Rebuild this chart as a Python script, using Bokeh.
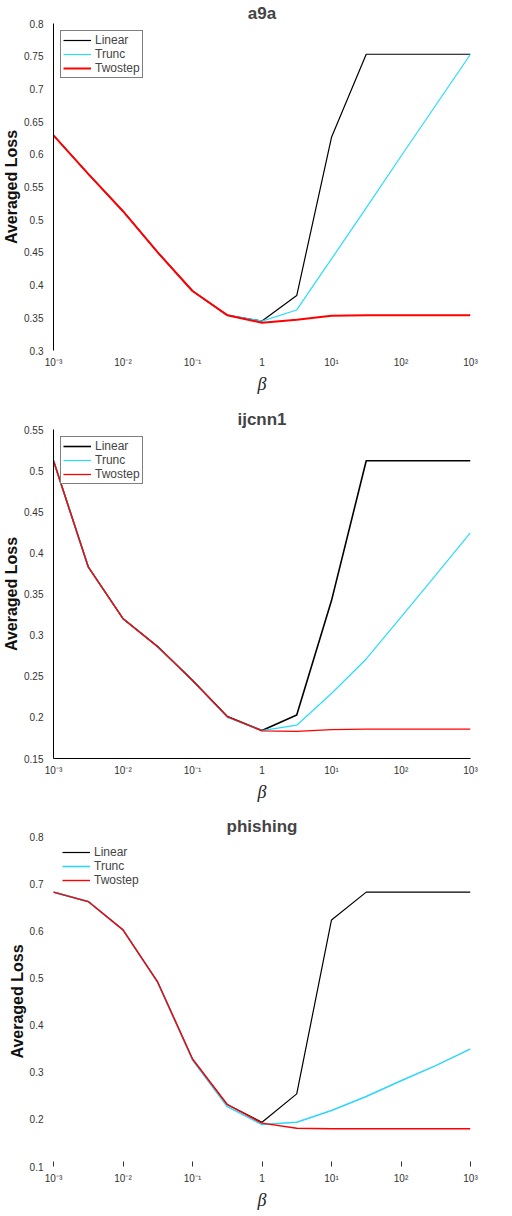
from bokeh.plotting import figure
from bokeh.layouts import column
from bokeh.models import (FixedTicker, CustomJSTickFormatter, Legend, LegendItem,
                          Range1d)
from bokeh.embed import file_html
from bokeh.resources import INLINE

# beta grid (half-decade steps)
beta = [0.001, 0.00316, 0.01, 0.0316, 0.1, 0.316, 1, 3.16, 10, 31.6, 100, 316, 1000]
x_ticks = [0.001, 0.01, 0.1, 1, 10, 100, 1000]

# a9a
a9a_linear = [0.629, 0.570, 0.513, 0.450, 0.391, 0.354, 0.345, 0.384, 0.626, 0.753, 0.753, 0.753, 0.753]
a9a_trunc = [0.629, 0.570, 0.513, 0.450, 0.391, 0.354, 0.345, 0.362, 0.440, 0.518, 0.597, 0.675, 0.753]
a9a_twostep = [0.629, 0.570, 0.513, 0.450, 0.391, 0.354, 0.3425, 0.347, 0.353, 0.354, 0.354, 0.354, 0.354]
a9a_yticks = [0.3, 0.35, 0.4, 0.45, 0.5, 0.55, 0.6, 0.65, 0.7, 0.75, 0.8]

# ijcnn1
ijcnn1_linear = [0.512, 0.383, 0.320, 0.286, 0.245, 0.201, 0.184, 0.203, 0.342, 0.512, 0.512, 0.512, 0.512]
ijcnn1_trunc = [0.512, 0.383, 0.320, 0.286, 0.245, 0.200, 0.184, 0.1905, 0.229, 0.271, 0.322, 0.373, 0.4245]
ijcnn1_twostep = [0.512, 0.383, 0.320, 0.286, 0.245, 0.201, 0.1836, 0.183, 0.1852, 0.1856, 0.1856, 0.1856, 0.1856]
ijcnn1_yticks = [0.15, 0.2, 0.25, 0.3, 0.35, 0.4, 0.45, 0.5, 0.55]

# phishing
phishing_linear = [0.682, 0.662, 0.602, 0.491, 0.328, 0.2315, 0.194, 0.254, 0.623, 0.682, 0.682, 0.682, 0.682]
phishing_trunc = [0.682, 0.662, 0.602, 0.490, 0.326, 0.227, 0.189, 0.194, 0.219, 0.2485, 0.282, 0.314, 0.3495]
phishing_twostep = [0.682, 0.662, 0.602, 0.491, 0.328, 0.2315, 0.192, 0.181, 0.180, 0.180, 0.180, 0.180, 0.180]
phishing_yticks = [0.1, 0.2, 0.3, 0.4, 0.5, 0.6, 0.7, 0.8]

series_names = ["Linear", "Trunc", "Twostep"]
BLACK = "#000000"
CYAN = "#27dcff"
RED = "#ff0000"
FONT = "Liberation Sans"

x_fmt = CustomJSTickFormatter(code="""
const e = Math.round(Math.log10(tick));
if (e === 0) { return "1"; }
const sup = {"-": "\u207b", "0": "\u2070", "1": "\u00b9", "2": "\u00b2", "3": "\u00b3"};
return "10" + String(e).split("").map(c => sup[c]).join("");
""")
y_fmt = CustomJSTickFormatter(code="return String(Number(tick.toFixed(2)));")


def make_panel(title, linear, trunc, twostep, yticks, height, top, bottom, left, right,
               widths, legend_box, x_line, y_line, x_ticks_in, cyan=CYAN):
    p = figure(width=512, height=height, x_axis_type="log",
               x_range=Range1d(x_ticks[0], x_ticks[-1]),
               y_range=Range1d(yticks[0], yticks[-1]),
               output_backend="svg", toolbar_location=None,
               min_border_left=left, min_border_right=right,
               min_border_top=top, min_border_bottom=bottom)
    p.title.text = title
    p.title.align = "center"
    p.title.text_font = FONT
    p.title.text_font_size = "17px"
    p.title.text_font_style = "bold"
    p.title.standoff = 2
    p.outline_line_color = None
    p.grid.grid_line_color = None
    p.background_fill_color = "white"

    r1 = p.line(beta, linear, line_color=BLACK, line_width=widths[0])
    r2 = p.line(beta, trunc, line_color=cyan, line_width=widths[1])
    r3 = p.line(beta, twostep, line_color=RED, line_width=widths[2])

    xa = p.xaxis[0]
    xa.ticker = FixedTicker(ticks=x_ticks, minor_ticks=[])
    xa.formatter = x_fmt
    xa.axis_line_color = BLACK if x_line else None
    xa.major_tick_in = 5 if x_ticks_in else 0
    xa.major_tick_out = 0
    xa.major_tick_line_color = "#333333" if x_ticks_in else None
    xa.minor_tick_line_color = None
    xa.major_label_text_font = FONT
    xa.major_label_text_font_size = "10px"
    xa.major_label_text_color = "#333333"
    xa.major_label_standoff = 6
    xa.axis_label = "\u03b2"
    xa.axis_label_text_font = "Liberation Serif"
    xa.axis_label_text_font_style = "italic"
    xa.axis_label_text_font_size = "18px"
    xa.axis_label_text_color = "#222222"
    xa.axis_label_standoff = 3

    ya = p.yaxis[0]
    ya.ticker = FixedTicker(ticks=yticks, minor_ticks=[])
    ya.formatter = y_fmt
    ya.axis_line_color = BLACK if y_line else None
    ya.major_tick_line_color = None
    ya.minor_tick_line_color = None
    ya.major_label_text_font = FONT
    ya.major_label_text_font_size = "10px"
    ya.major_label_text_color = "#333333"
    ya.major_label_standoff = 4
    ya.axis_label = "Averaged Loss"
    ya.axis_label_text_font = FONT
    ya.axis_label_text_font_style = "bold"
    ya.axis_label_text_font_size = "16px"
    ya.axis_label_text_color = "#111111"
    ya.axis_label_standoff = 1

    legend = Legend(items=[LegendItem(label=series_names[0], renderers=[r1]),
                           LegendItem(label=series_names[1], renderers=[r2]),
                           LegendItem(label=series_names[2], renderers=[r3])],
                    location="top_left")
    legend.label_text_font = FONT
    legend.label_text_font_size = "12px"
    legend.glyph_width = 28
    legend.glyph_height = 14
    legend.label_height = 14
    legend.label_standoff = 4
    legend.spacing = 0
    legend.padding = 2
    legend.margin = 7
    if legend_box:
        legend.border_line_color = BLACK
        legend.border_line_width = 1
        legend.background_fill_color = "white"
        legend.background_fill_alpha = 1
    else:
        legend.border_line_alpha = 0
        legend.background_fill_alpha = 0
    p.add_layout(legend)
    return p


p1 = make_panel("a9a", a9a_linear, a9a_trunc, a9a_twostep, a9a_yticks,
                height=400, top=21, bottom=50, left=52, right=38,
                widths=(1.2, 1.2, 2.0),
                legend_box=True, x_line=False, y_line=True, x_ticks_in=False)
p2 = make_panel("ijcnn1", ijcnn1_linear, ijcnn1_trunc, ijcnn1_twostep, ijcnn1_yticks,
                height=405, top=29, bottom=47, left=52, right=38,
                widths=(1.6, 1.2, 1.3),
                legend_box=True, x_line=True, y_line=True, x_ticks_in=False)
p3 = make_panel("phishing", phishing_linear, phishing_trunc, phishing_twostep, phishing_yticks,
                height=409, top=31, bottom=48, left=48, right=42,
                widths=(1.2, 1.6, 1.4),
                legend_box=False, x_line=False, y_line=False, x_ticks_in=True,
                cyan="#30d4ff")

layout = column(p1, p2, p3, spacing=0)
open("out.html", "w").write(file_html(layout, INLINE))
